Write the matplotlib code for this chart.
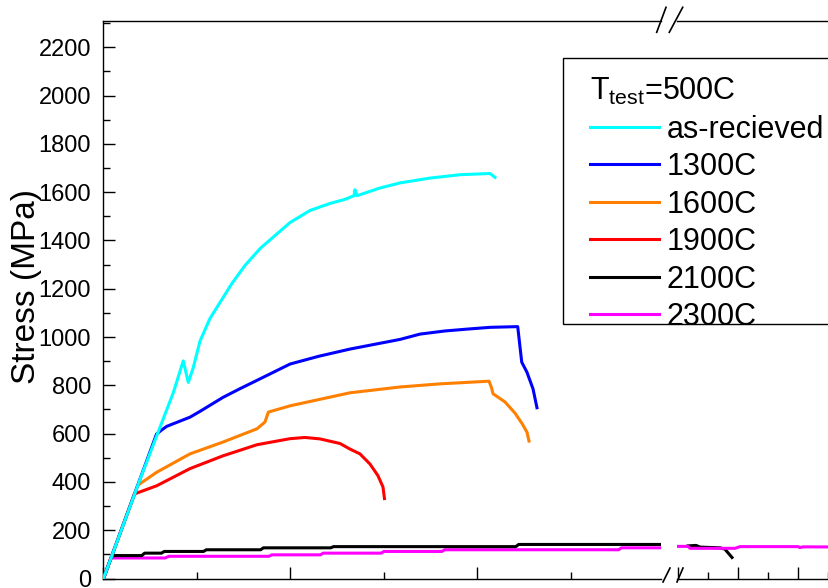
import matplotlib
matplotlib.use('Agg')
import matplotlib.pyplot as plt
from matplotlib.lines import Line2D
from matplotlib.patches import Rectangle
from matplotlib.ticker import MultipleLocator

plt.rcParams['font.family'] = ['Liberation Sans', 'DejaVu Sans']
plt.rcParams['mathtext.fontset'] = 'custom'
plt.rcParams['mathtext.rm'] = 'Liberation Sans'
plt.rcParams['mathtext.it'] = 'Liberation Sans:italic'

# ---------------- data ----------------
labels = ['as-recieved', '1300C', '1600C', '1900C', '2100C', '2300C']
colors = ['#00FFFF', '#0000FF', '#FF8000', '#FF0000', '#000000', '#FF00FF']

strain_asrec = [0, 0.40, 0.747, 0.853, 0.907, 0.960, 1.032, 1.139, 1.246, 1.374, 1.513, 1.674,
                1.834, 1.995, 2.209, 2.422, 2.583, 2.679, 2.690, 2.711, 2.957, 3.171, 3.492,
                3.813, 4.134, 4.187]
stress_asrec = [0, 420, 770, 901, 812, 873, 983, 1077, 1143, 1222, 1296, 1366,
                1420, 1474, 1524, 1553, 1570, 1585, 1610, 1585, 1617, 1638, 1658,
                1672, 1677, 1661]

strain_1300 = [0, 0.567, 0.622, 0.676, 0.925, 1.032, 1.278, 1.460, 1.639, 1.995, 2.30, 2.636,
               3.171, 3.385, 3.652, 3.90, 4.134, 4.430, 4.473, 4.529, 4.594, 4.636]
stress_1300 = [0, 598, 615, 630, 668, 692, 750, 786, 820, 888, 920, 950,
               990, 1012, 1025, 1033, 1040, 1043, 896, 854, 785, 707]

strain_1600 = [0, 0.366, 0.569, 0.925, 1.278, 1.642, 1.727, 1.763, 1.995, 2.636, 3.171, 3.599,
               4.123, 4.15, 4.166, 4.294, 4.401, 4.476, 4.529, 4.551]
stress_1600 = [0, 386, 440, 516, 565, 620, 648, 689, 715, 769, 793, 806,
               817, 790, 765, 731, 685, 642, 606, 569]

strain_1900 = [0, 0.33, 0.569, 0.925, 1.278, 1.642, 1.995, 2.155, 2.316, 2.529, 2.636, 2.743,
               2.850, 2.935, 2.989, 3.005]
stress_1900 = [0, 350, 384, 455, 508, 554, 579, 584, 578, 559, 536, 516,
               474, 426, 379, 331]

strain_2100 = [0, 0.09, 0.41, 0.44, 0.62, 0.65, 1.07, 1.10, 1.68, 1.71, 2.43, 2.46, 4.41, 4.44, 5.98]
stress_2100 = [0, 95, 95, 105, 105, 112, 112, 119, 119, 127, 127, 132, 132, 141, 141]

strain_2300 = [0, 0.08, 0.66, 0.70, 1.77, 1.80, 2.32, 2.35, 2.97, 3.00, 3.62, 3.65, 5.51, 5.54, 5.98]
stress_2300 = [0, 85, 85, 92, 92, 98, 98, 105, 105, 112, 112, 119, 119, 127, 127]

# segment after the axis break
strain_2100_r = [31.67, 33.0, 33.67, 37.0, 37.8, 39.0]
stress_2100_r = [135, 137, 130, 127, 122, 87]
strain_2300_r = [29.83, 31.67, 32.0, 39.5, 40.33, 50.0, 50.33, 50.8, 68.0]
stress_2300_r = [133, 133, 125, 125, 132, 132, 128, 131, 130]

left_series = [(strain_asrec, stress_asrec), (strain_1300, stress_1300),
               (strain_1600, stress_1600), (strain_1900, stress_1900),
               (strain_2100, stress_2100), (strain_2300, stress_2300)]

# ---------------- layout ----------------
W, H = 829, 588
fig = plt.figure(figsize=(W / 100, H / 100), dpi=100)

def fx(px):
    return px / W

def fy(py):
    return 1 - py / H

y_bot, y_top = 578.5, 20.7
axL = fig.add_axes([fx(103.5), fy(y_bot), fx(661 - 103.5), (y_bot - y_top) / H])
axR = fig.add_axes([fx(677), fy(y_bot), fx(900 - 677), (y_bot - y_top) / H])
axR.patch.set_visible(False)

LW = 2.2
n = len(left_series)
for i, ((xs, ys), c, lab) in enumerate(zip(left_series, colors, labels)):
    axL.plot(xs, ys, color=c, lw=LW, label=lab, zorder=10 + (n - i), solid_joinstyle='round')

axR.plot(strain_2100_r, stress_2100_r, color=colors[4], lw=LW, zorder=3)
axR.plot(strain_2300_r, stress_2300_r, color=colors[5], lw=LW, zorder=4)

ymax = (y_bot - y_top) / 0.2415
axL.set_xlim(0, (661 - 103.5) / 93.5)
axL.set_ylim(0, ymax)
axR.set_xlim(29.83, 29.83 + (900 - 677) / 6.0)
axR.set_ylim(0, ymax)

for ax in (axL, axR):
    for s in ax.spines.values():
        s.set_linewidth(1.0)
axL.spines['right'].set_visible(False)
axR.spines['left'].set_visible(False)

axL.xaxis.set_major_locator(MultipleLocator(2))
axL.xaxis.set_minor_locator(MultipleLocator(1))
axL.yaxis.set_major_locator(MultipleLocator(200))
axL.yaxis.set_minor_locator(MultipleLocator(100))
axL.tick_params(which='both', direction='in', top=False, right=False,
                labelbottom=False, width=1.0)
axL.tick_params(which='major', length=8.6, labelsize=17, pad=9)
axL.tick_params(which='minor', length=5)

axR.xaxis.set_major_locator(MultipleLocator(10))
axR.xaxis.set_minor_locator(MultipleLocator(5))
axR.tick_params(which='both', direction='in', top=False, right=False, left=False,
                labelbottom=False, labelleft=False, width=1.0)
axR.tick_params(which='major', length=8.6)
axR.tick_params(which='minor', length=5)
axR.set_yticks([])

axL.set_ylabel('Stress (MPa)', fontsize=24)
axL.yaxis.set_label_coords(-0.110, 0.524)

# axis-break marks
def slash(x0, y0, x1, y1):
    fig.add_artist(Line2D([fx(x0), fx(x1)], [fy(y0), fy(y1)], color='black', lw=1.2,
                          transform=fig.transFigure))

slash(663, 582, 670, 568)
slash(677, 582, 683, 568)
slash(656.7, 32.3, 666, 7.3)
slash(669.3, 32.3, 682.7, 7.3)

# legend frame (extends past the right edge as in the source)
fig.add_artist(Rectangle((fx(563.3), fy(324)), fx(900 - 563.3), (324 - 58.3) / H,
                         transform=fig.transFigure, facecolor='white', edgecolor='black',
                         lw=1.0, zorder=20))

handles = [Line2D([], [], color=c, lw=LW) for c in colors]
leg = fig.legend(handles, labels, title=r'T$_{\mathrm{test}}$=500C', loc='upper left',
                 bbox_to_anchor=(fx(590), fy(76)), bbox_transform=fig.transFigure,
                 frameon=False, fontsize=22, title_fontsize=22, handlelength=2.25,
                 handletextpad=0.27, labelspacing=0.245, borderpad=0, borderaxespad=0,
                 alignment='left')
leg.set_zorder(30)

fig.savefig('out.png', dpi=100)
